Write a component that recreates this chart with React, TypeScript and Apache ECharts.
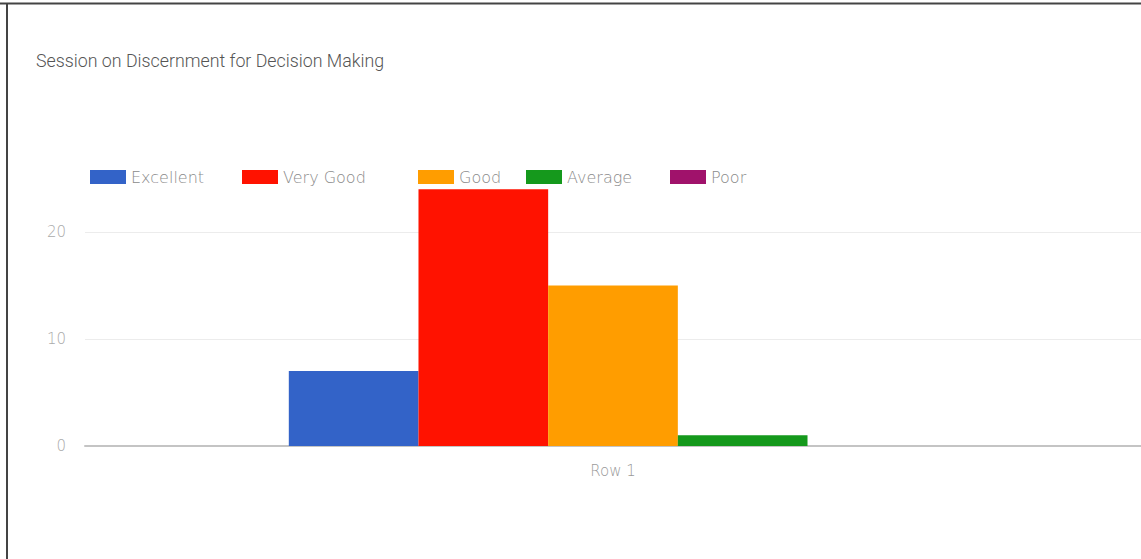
import React, { useEffect, useRef } from "react";
import * as echarts from "echarts";

const categories = ["Row 1"];
const seriesNames = ["Excellent", "Very Good", "Good", "Average", "Poor"];
const seriesValues = [[7], [24], [15], [1], [0]];
const seriesColors = ["#3363c8", "#ff1200", "#ff9d00", "#15991c", "#a0126b"];
const yTicks = [0, 10, 20];
const legendLefts = [85, 237, 413, 521, 665];

export default function App() {
  const ref = useRef<HTMLDivElement>(null);
  useEffect(() => {
    if (!ref.current) return;
    const chart = echarts.init(ref.current, undefined, { renderer: "svg" });
    const legendText = { fontFamily: "DejaVu Sans", fontWeight: 200, fontSize: 16, color: "#8a8a8a" };
    chart.setOption({
      animation: false,
      backgroundColor: "#ffffff",
      title: {
        text: "Session on Discernment for Decision Making",
        left: 31,
        top: 46,
        textStyle: { fontFamily: "Roboto", fontWeight: 300, fontSize: 17.8, color: "#555" },
      },
      legend: seriesNames.map((name, i) => ({
        data: [name],
        left: legendLefts[i],
        top: 164,
        itemWidth: 36,
        itemHeight: 14,
        icon: "rect",
        textStyle: legendText,
      })),
      grid: { left: 85, right: -4, top: 178.5, bottom: 113, containLabel: false },
      xAxis: {
        type: "category",
        data: categories,
        axisTick: { show: false },
        axisLine: { show: true, lineStyle: { color: "#c4c4c4", width: 2 } },
        axisLabel: { margin: 17, fontFamily: "DejaVu Sans", fontWeight: 200, fontSize: 15, color: "#999" },
      },
      yAxis: {
        type: "value",
        min: 0,
        max: 25,
        interval: yTicks[1] - yTicks[0],
        axisLine: { show: false },
        axisTick: { show: false },
        axisLabel: {
          margin: 19,
          showMaxLabel: false,
          fontFamily: "DejaVu Sans",
          fontWeight: 200,
          fontSize: 15,
          color: "#aaa",
        },
        splitLine: {
          lineStyle: { color: ["#ececec", "#ececec", "#ececec", "transparent"], width: 1 },
        },
      },
      series: seriesNames.map((name, i) => ({
        name,
        type: "bar",
        data: seriesValues[i],
        barGap: 0,
        barCategoryGap: "38.6%",
        itemStyle: { color: seriesColors[i] },
      })),
      graphic: [
        { type: "line", shape: { x1: 0, y1: 3.5, x2: 1141, y2: 3.5 }, style: { stroke: "#444", lineWidth: 2 } },
        { type: "line", shape: { x1: 7, y1: 3, x2: 7, y2: 559 }, style: { stroke: "#444", lineWidth: 2 } },
      ],
    });
    return () => chart.dispose();
  }, []);
  return (
    <div
      ref={ref}
      style={{ position: "fixed", left: 0, top: 0, width: 1141, height: 559 }}
    />
  );
}
